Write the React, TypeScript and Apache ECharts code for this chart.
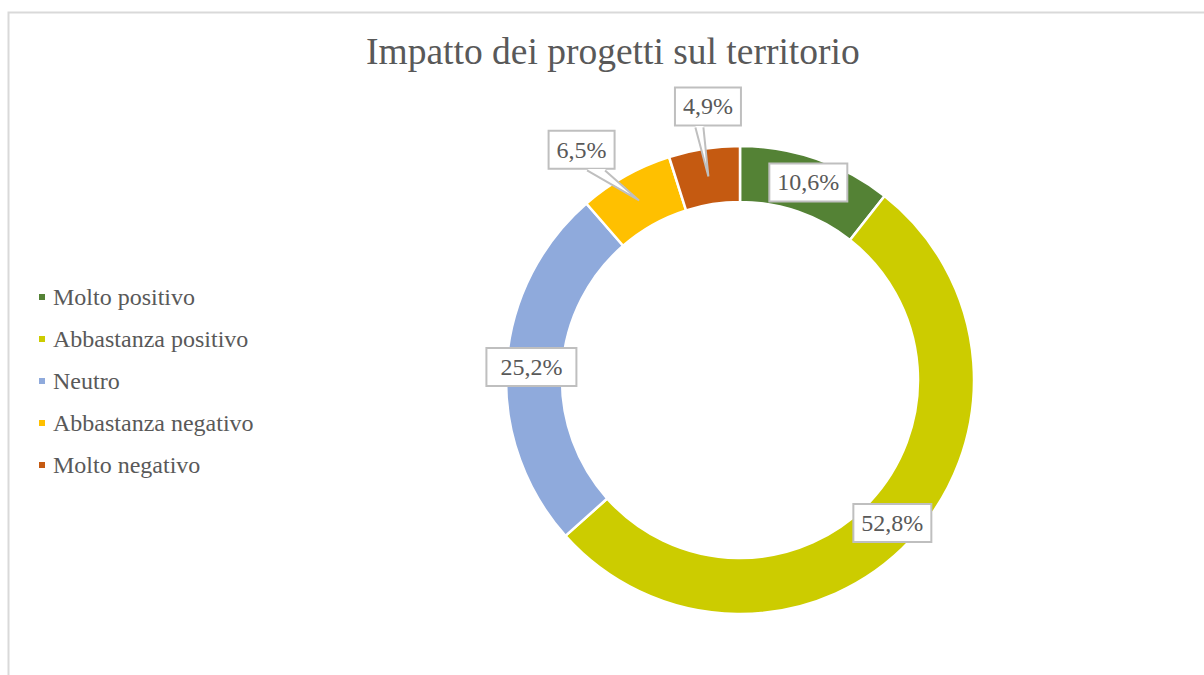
import React, { useEffect, useRef } from "react";
import * as echarts from "echarts";

const categories = [
  "Molto positivo",
  "Abbastanza positivo",
  "Neutro",
  "Abbastanza negativo",
  "Molto negativo",
];
const values = [10.6, 52.8, 25.2, 6.5, 4.9];
const labelTexts = ["10,6%", "52,8%", "25,2%", "6,5%", "4,9%"];
const colors = ["#548235", "#CCCC00", "#8FAADC", "#FFC000", "#C55A11"];

const CENTER = [740, 380];
const R_IN = 178;
const R_OUT = 234;
const FONT = "Liberation Serif";
const TEXT = "#595959";
const BOX = "#BFBFBF";

// callout offsets (label box centre relative to slice anchor) for small slices
const callouts: Record<number, { dx: number; dy: number; b0: number; b1: number }> = {
  3: { dx: -56, dy: -48, b0: 4, b1: 22 },
  4: { dx: 0, dy: -67, b0: -13, b1: -5 },
};

function anchorOf(i: number) {
  const total = values.reduce((a, b) => a + b, 0);
  let cum = 0;
  for (let k = 0; k < i; k++) cum += values[k];
  const mid = ((cum + values[i] / 2) / total) * Math.PI * 2;
  const r = (R_IN + R_OUT) / 2;
  return [CENTER[0] + r * Math.sin(mid), CENTER[1] - r * Math.cos(mid)];
}

export default function App() {
  const ref = useRef<HTMLDivElement>(null);
  useEffect(() => {
    if (!ref.current) return;
    const chart = echarts.init(ref.current, undefined, { renderer: "svg" });

    const graphics: any[] = [
      {
        type: "polyline",
        z: 0,
        silent: true,
        shape: { points: [[8.5, 700], [8.5, 12.5], [1300, 12.5]] },
        style: { stroke: "#D9D9D9", lineWidth: 2, fill: "none" },
      },
    ];
    Object.keys(callouts).forEach((key) => {
      const i = Number(key);
      const c = callouts[i];
      const [tx, ty] = anchorOf(i);
      const bx = tx + c.dx;
      const by = ty + c.dy + 18;
      graphics.push({
        type: "polygon",
        z: 10,
        silent: true,
        shape: { points: [[bx + c.b0, by - 1.5], [tx, ty], [bx + c.b1, by - 1.5]] },
        style: { fill: "#FFFFFF", stroke: "none" },
      });
      graphics.push({
        type: "polyline",
        z: 10,
        silent: true,
        shape: { points: [[bx + c.b0, by], [tx, ty], [bx + c.b1, by]] },
        style: { stroke: BOX, lineWidth: 2, fill: "none" },
      });
    });

    const data = categories.map((name, i) => {
      const item: any = {
        name,
        value: values[i],
        itemStyle: { color: colors[i] },
      };
      if (i === 2) item.label = { padding: [6, 13] };
      return item;
    });

    chart.setOption({
      animation: false,
      backgroundColor: "#FFFFFF",
      title: {
        text: "Impatto dei progetti sul territorio",
        left: 366,
        top: 32,
        padding: 0,
        textStyle: {
          fontFamily: FONT,
          fontSize: 37.5,
          fontWeight: "normal",
          color: TEXT,
        },
      },
      legend: {
        orient: "vertical",
        left: 37,
        top: 285,
        padding: 0,
        itemWidth: 8,
        itemHeight: 8,
        itemGap: 18,
        icon: "rect",
        data: categories,
        textStyle: {
          fontFamily: FONT,
          fontSize: 24,
          lineHeight: 24,
          color: TEXT,
          padding: [0, 0, 0, 2],
        },
      },
      graphic: graphics,
      series: [
        {
          type: "pie",
          center: CENTER,
          radius: [R_IN, R_OUT],
          startAngle: 90,
          clockwise: true,
          avoidLabelOverlap: false,
          itemStyle: { borderColor: "#FFFFFF", borderWidth: 2.5 },
          emphasis: { disabled: true },
          label: {
            show: true,
            position: "inside",
            formatter: (p: any) => labelTexts[p.dataIndex],
            fontFamily: FONT,
            fontSize: 24,
            lineHeight: 24,
            color: TEXT,
            backgroundColor: "#FFFFFF",
            borderColor: BOX,
            borderWidth: 2,
            padding: [6, 7],
          },
          labelLine: { show: false },
          labelLayout: (params: any) => {
            const c = callouts[params.dataIndex];
            if (c) return { dx: c.dx, dy: c.dy };
            return {};
          },
          data,
        },
      ],
    });
    return () => chart.dispose();
  }, []);

  return (
    <div style={{ position: "fixed", left: 0, top: 0, width: 1204, height: 675 }}>
      <div ref={ref} style={{ width: 1204, height: 675 }} />
    </div>
  );
}
